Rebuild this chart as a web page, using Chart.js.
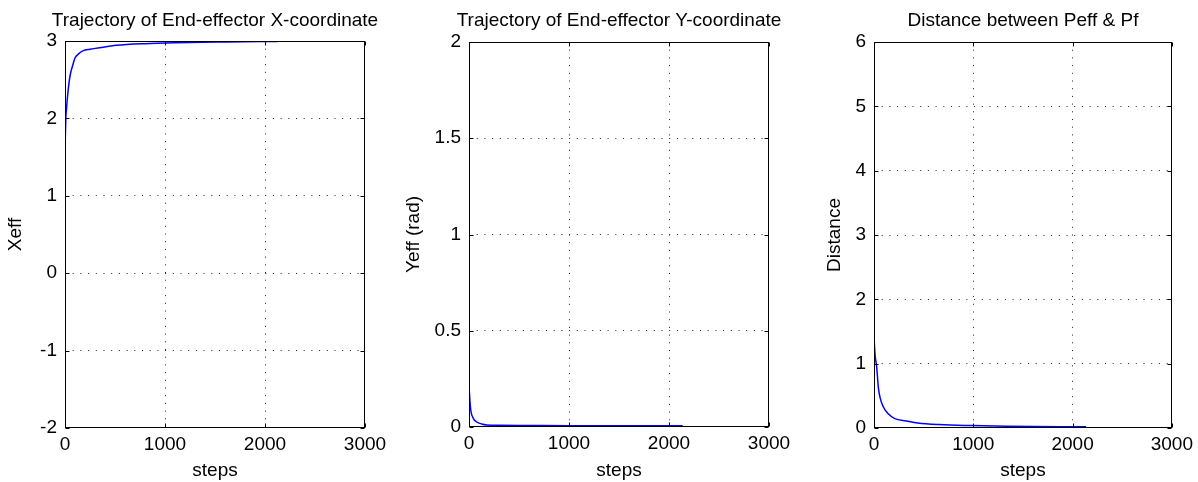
<!DOCTYPE html>
<html>
<head>
<meta charset="utf-8">
<script src="https://cdn.jsdelivr.net/npm/chart.js@4"></script>
<style>
  html, body { margin: 0; padding: 0; background: #fff; }
  #wrap { position: relative; width: 1198px; height: 482px; }
  canvas { position: absolute; top: 0; }
</style>
</head>
<body>
<div id="wrap">
  <canvas id="xChart" width="400" height="482" style="left:0"></canvas>
  <canvas id="yChart" width="400" height="482" style="left:400px"></canvas>
  <canvas id="dChart" width="398" height="482" style="left:800px"></canvas>
</div>
<script>
// x-coordinate of the end-effector
const xSteps = [0, 3, 8, 15, 25, 40, 55, 76, 100, 133, 183, 249, 349, 515, 797, 1100, 1611, 2126];
const xVals  = [1.57, 1.75, 2.0, 2.12, 2.28, 2.46, 2.58, 2.68, 2.78, 2.83, 2.875, 2.893, 2.914, 2.944, 2.966, 2.978, 2.988, 2.995];

// y-coordinate of the end-effector
const ySteps = [0, 5, 10, 20, 43, 77, 127, 177, 300, 600, 1000, 1500, 2137];
const yVals  = [0.21, 0.17, 0.13, 0.08, 0.045, 0.026, 0.016, 0.011, 0.009, 0.008, 0.007, 0.007, 0.007];

// distance between Peff and Pf
const distSteps = [0, 10, 27, 43, 60, 93, 143, 209, 326, 442, 658, 987, 1336, 2136];
const distVals  = [1.42, 1.15, 0.95, 0.64, 0.48, 0.33, 0.22, 0.146, 0.11, 0.078, 0.053, 0.037, 0.026, 0.018];

// tick values
const stepTicks = [0, 1000, 2000, 3000];
const xTicks = [-2, -1, 0, 1, 2, 3];
const yTicks = [0, 0.5, 1, 1.5, 2];
const distTicks = [0, 1, 2, 3, 4, 5, 6];

const FONT = "'Liberation Sans', Arial, sans-serif";
Chart.defaults.font.family = FONT;
Chart.defaults.font.size = 19;
Chart.defaults.color = '#000';

// matlab-like box with small inward ticks, title centred over the axes
const boxPlugin = {
    id: 'matlabBox',
    afterDatasetsDraw(chart, args, opts) {
        const {ctx, chartArea: a, scales} = chart;
        const l = Math.round(a.left) + 0.5, t = Math.round(a.top) + 0.5;
        const r = Math.round(a.right) - 0.5, b = Math.round(a.bottom) - 0.5;
        const tl = 4;
        ctx.save();
        ctx.setLineDash([]);
        ctx.strokeStyle = '#000';
        ctx.lineWidth = 1;
        ctx.strokeRect(l, t, r - l, b - t);
        ctx.beginPath();
        scales.x.ticks.forEach(tk => {
            const px = Math.round(scales.x.getPixelForValue(tk.value)) + 0.5;
            ctx.moveTo(px, b); ctx.lineTo(px, b - tl);
            ctx.moveTo(px, t); ctx.lineTo(px, t + tl);
        });
        scales.y.ticks.forEach(tk => {
            const py = Math.round(scales.y.getPixelForValue(tk.value)) + 0.5;
            ctx.moveTo(l, py); ctx.lineTo(l + tl, py);
            ctx.moveTo(r, py); ctx.lineTo(r - tl, py);
        });
        ctx.stroke();

        ctx.fillStyle = '#000';
        ctx.font = '19px ' + FONT;
        ctx.textAlign = 'center';
        ctx.textBaseline = 'alphabetic';
        ctx.fillText(opts.text, (a.left + a.right) / 2, 26);
        ctx.restore();
    }
};

function gridColor(c) {
    const n = c.scale.ticks.length;
    return (c.index === 0 || c.index === n - 1) ? 'rgba(0,0,0,0)' : '#222';
}

function makeChart(id, o) {
    const pts = o.steps.map((s, i) => ({x: s, y: o.vals[i]}));
    const canvas = document.getElementById(id);
    return new Chart(canvas.getContext('2d'), {
        type: 'line',
        data: {
            datasets: [{
                data: pts,
                borderColor: '#0000ff',
                borderWidth: 1.5,
                pointRadius: 0,
                fill: false,
                cubicInterpolationMode: 'monotone'
            }]
        },
        plugins: [boxPlugin],
        options: {
            responsive: false,
            animation: false,
            devicePixelRatio: 1,
            layout: { padding: { left: 0, right: canvas.width - o.right, top: o.top, bottom: 0 } },
            plugins: {
                legend: { display: false },
                tooltip: { enabled: false },
                title: { display: false },
                matlabBox: { text: o.title }
            },
            scales: {
                x: {
                    type: 'linear',
                    min: 0, max: 3000,
                    afterBuildTicks: s => { s.ticks = stepTicks.map(v => ({value: v})); },
                    afterFit: s => { s.height = canvas.height - o.bottom; },
                    ticks: { padding: 5, callback: v => String(v), maxRotation: 0 },
                    grid: { color: gridColor, lineWidth: 1, drawTicks: false },
                    border: { display: false, dash: [1, 6.7] },
                    title: { display: true, text: 'steps', padding: { top: 0, bottom: 0 } }
                },
                y: {
                    type: 'linear',
                    min: o.yTicks[0], max: o.yTicks[o.yTicks.length - 1],
                    afterBuildTicks: s => { s.ticks = o.yTicks.map(v => ({value: v})); },
                    afterFit: s => { s.width = o.left; },
                    ticks: { padding: 8, callback: v => String(v) },
                    grid: { color: gridColor, lineWidth: 1, drawTicks: false },
                    border: { display: false, dash: [1, 6.7] },
                    title: { display: true, text: o.yLabel, padding: { top: o.yLabelPad, bottom: 0 } }
                }
            }
        }
    });
}

makeChart('xChart', {
    steps: xSteps, vals: xVals, yTicks: xTicks,
    title: 'Trajectory of End-effector X-coordinate', yLabel: 'Xeff',
    left: 65, right: 365, top: 41, bottom: 428, yLabelPad: 4
});
makeChart('yChart', {
    steps: ySteps, vals: yVals, yTicks: yTicks,
    title: 'Trajectory of End-effector Y-coordinate', yLabel: 'Yeff (rad)',
    left: 69, right: 369, top: 42, bottom: 427, yLabelPad: 2
});
makeChart('dChart', {
    steps: distSteps, vals: distVals, yTicks: distTicks,
    title: 'Distance between Peff & Pf', yLabel: 'Distance',
    left: 74, right: 375, top: 42, bottom: 428, yLabelPad: 23
});
</script>
</body>
</html>
